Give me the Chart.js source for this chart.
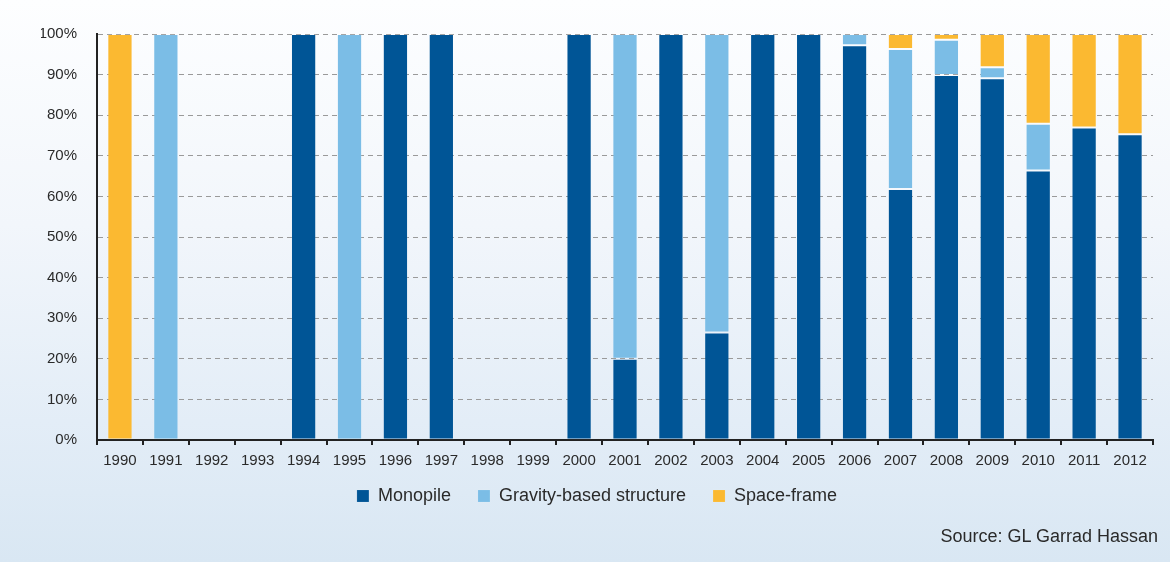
<!DOCTYPE html>
<html>
<head>
<meta charset="utf-8">
<script src="https://cdn.jsdelivr.net/npm/chart.js@4.4.1/dist/chart.umd.min.js"></script>
<style>
  html, body { margin: 0; padding: 0; }
  body {
    width: 1170px; height: 562px; overflow: hidden; position: relative;
    background: linear-gradient(to bottom, #fdfeff 0%, #f2f6fb 40%, #e3edf7 75%, #d9e7f3 100%);
    font-family: "Liberation Sans", Arial, sans-serif;
  }
  #wrap { position: absolute; left: 0; top: 0; width: 1170px; height: 562px; }
  #source {
    position: absolute; right: 12px; top: 526px;
    font-size: 18px; color: #2a2a2a;
  }
</style>
</head>
<body>
<div id="wrap"><canvas id="foundationchart"></canvas></div>
<div id="source">Source: GL Garrad Hassan</div>
<script>
// share of installed foundations per year (%)
var years = ['1990','1991','1992','1993','1994','1995','1996','1997','1998','1999','2000','2001',
             '2002','2003','2004','2005','2006','2007','2008','2009','2010','2011','2012'];
var monopile   = [0, 0, 0, 0, 100, 0, 100, 100, 0, 0, 100, 20, 100, 26.5, 100, 100, 97.2, 61.8, 89.9, 89.1, 66.4, 77.0, 75.3];
var gravity    = [0, 100, 0, 0, 0, 100, 0, 0, 0, 0, 0, 80, 0, 73.5, 0, 0, 2.8, 34.5, 8.7, 2.7, 11.5, 0, 0];
var spaceframe = [100, 0, 0, 0, 0, 0, 0, 0, 0, 0, 0, 0, 0, 0, 0, 0, 0, 3.7, 1.4, 8.2, 22.1, 23.0, 24.7];
var seriesNames = ['Monopile', 'Gravity-based structure', 'Space-frame'];
var seriesColors = ['#005596', '#7bbde6', '#fbb931'];

var font = '"Liberation Sans", Arial, sans-serif';

// pull the legend a little closer to the year labels
var legendLift = {
    id: 'legendLift',
    afterInit: function (chart) {
        var draw = chart.legend.draw;
        chart.legend.draw = function () {
            var c = this.ctx;
            c.save();
            c.translate(0, -11);
            draw.apply(this, arguments);
            c.restore();
        };
    }
};

var ctx = document.getElementById('foundationchart');
var chart = new Chart(ctx, {
    type: 'bar',
    data: {
        labels: years,
        datasets: [monopile, gravity, spaceframe].map(function (vals, i) {
            return {
                label: seriesNames[i],
                data: vals,
                backgroundColor: seriesColors[i],
                borderColor: 'rgba(255,255,255,0.1)',
                borderWidth: 1,
                borderSkipped: false,
                categoryPercentage: 1,
                barPercentage: 0.55
            };
        })
    },
    options: {
        responsive: true,
        maintainAspectRatio: false,
        animation: false,
        layout: { padding: { left: 41, right: 17, top: 34, bottom: 36 } },
        plugins: {
            tooltip: { enabled: false },
            legend: {
                position: 'bottom',
                labels: {
                    boxWidth: 12, boxHeight: 12, padding: 27,
                    color: '#2a2a2a',
                    font: { family: font, size: 18 }
                }
            }
        },
        scales: {
            x: {
                stacked: true,
                grid: { display: true, drawOnChartArea: false, drawTicks: true, tickLength: 5, offset: true, color: '#222', lineWidth: 2 },
                border: { display: true, color: '#222', width: 2 },
                ticks: { color: '#2a2a2a', padding: 7, maxRotation: 0, autoSkip: false,
                         font: { family: font, size: 15 } },
                afterFit: function (scale) { scale.height = 31; }
            },
            y: {
                stacked: true,
                min: 0, max: 100,
                grid: { color: '#9a9a9a', lineWidth: 1, drawTicks: false },
                border: { display: true, color: '#222', width: 2, dash: [5, 4] },
                ticks: { stepSize: 10, padding: 20, color: '#2a2a2a',
                         font: { family: font, size: 15 },
                         callback: function (v) { return v + '%'; } },
                afterFit: function (scale) { scale.width = 56; }
            }
        }
    },
    plugins: [legendLift]
});
</script>
</body>
</html>
